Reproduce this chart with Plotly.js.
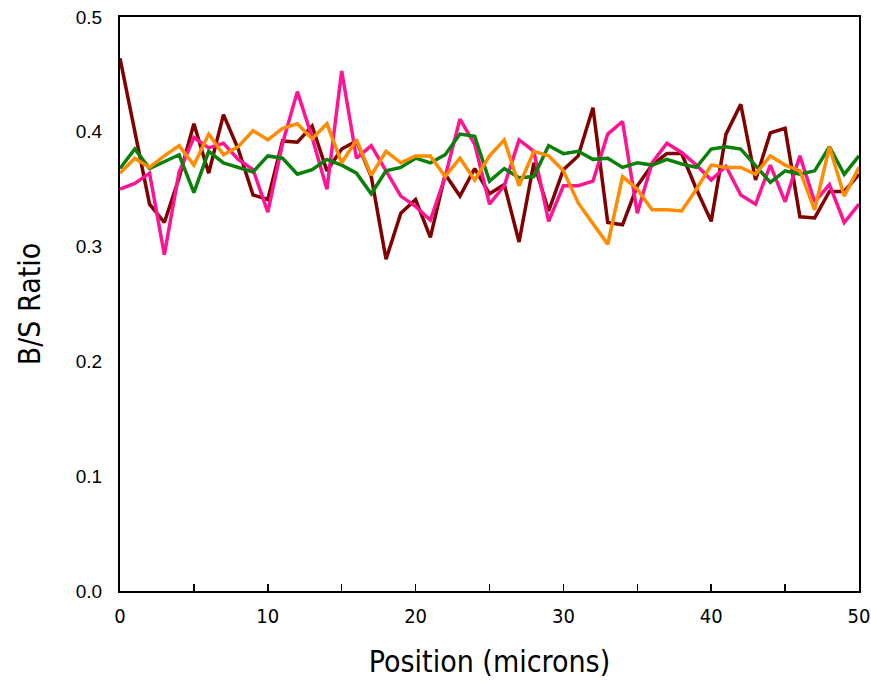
<!DOCTYPE html>
<html>
<head>
<meta charset="utf-8">
<script src="https://cdn.plot.ly/plotly-3.0.1.min.js"></script>
<style>html,body{margin:0;padding:0;background:#fff;}#chart{width:871px;height:684px;}</style>
</head>
<body>
<div id="chart"></div>
<script>
const position = [0,1,2,3,4,5,6,7,8,9,10,11,12,13,14,15,16,17,18,19,20,21,22,23,24,25,26,27,28,29,30,31,32,33,34,35,36,37,38,39,40,41,42,43,44,45,46,47,48,49,50];

const seriesDarkRed = [0.464,0.400,0.337,0.321,0.360,0.407,0.364,0.415,0.385,0.345,0.341,0.392,0.391,0.405,0.366,0.385,0.392,0.361,0.289,0.329,0.341,0.308,0.363,0.344,0.368,0.346,0.354,0.304,0.373,0.331,0.367,0.379,0.421,0.321,0.319,0.353,0.371,0.381,0.381,0.350,0.322,0.398,0.424,0.358,0.399,0.403,0.326,0.325,0.348,0.348,0.363];

const seriesPink = [0.350,0.355,0.364,0.293,0.365,0.395,0.386,0.390,0.376,0.367,0.330,0.390,0.435,0.395,0.350,0.453,0.377,0.388,0.366,0.344,0.335,0.323,0.361,0.411,0.389,0.337,0.353,0.393,0.383,0.322,0.353,0.353,0.357,0.398,0.409,0.329,0.373,0.390,0.382,0.371,0.358,0.370,0.345,0.337,0.371,0.339,0.379,0.339,0.354,0.321,0.337];

const seriesGreen = [0.368,0.385,0.368,0.374,0.380,0.347,0.383,0.373,0.369,0.365,0.379,0.377,0.363,0.367,0.376,0.371,0.364,0.346,0.366,0.369,0.377,0.373,0.380,0.398,0.396,0.357,0.368,0.360,0.361,0.388,0.381,0.383,0.376,0.377,0.369,0.373,0.371,0.376,0.372,0.369,0.385,0.387,0.385,0.371,0.356,0.366,0.363,0.366,0.387,0.363,0.379];

const seriesOrange = [0.364,0.377,0.369,0.379,0.388,0.371,0.398,0.380,0.387,0.401,0.393,0.403,0.407,0.394,0.407,0.373,0.393,0.362,0.383,0.373,0.379,0.379,0.361,0.377,0.358,0.379,0.393,0.353,0.383,0.379,0.366,0.338,0.320,0.302,0.361,0.350,0.332,0.332,0.331,0.350,0.371,0.369,0.369,0.363,0.379,0.371,0.366,0.332,0.387,0.344,0.369];

const xTickVals = [0,10,20,30,40,50];
const xTickText = ['0','10','20','30','40','50'];
const yTickVals = [0.0,0.1,0.2,0.3,0.4,0.5];
const yTickText = ['0.0','0.1','0.2','0.3','0.4','0.5'];

const colors = ['#800000','#ff1493','#0a800a','#ff8c00'];
const seriesList = [seriesDarkRed, seriesPink, seriesGreen, seriesOrange];

const traces = seriesList.map((ys, k) => ({
  x: position,
  y: ys,
  type: 'scatter',
  mode: 'lines',
  line: {color: colors[k], width: 3.5},
  showlegend: false,
  hoverinfo: 'skip'
}));

const layout = {
  width: 871,
  height: 684,
  margin: {l: 120, r: 12, t: 17, b: 93},
  paper_bgcolor: '#ffffff',
  plot_bgcolor: '#ffffff',
  showlegend: false,
  xaxis: {
    range: [0, 50],
    tickmode: 'array',
    tickvals: xTickVals,
    ticktext: xTickText,
    ticks: 'inside',
    ticklen: 7,
    tickwidth: 1.5,
    tickcolor: '#000',
    ticklabelstandoff: 6,
    minor: {tickmode: 'linear', tick0: 0, dtick: 5, ticks: 'inside', ticklen: 7, tickwidth: 1.5, tickcolor: '#000', showgrid: false},
    showline: true,
    linecolor: '#000',
    linewidth: 2,
    mirror: true,
    showgrid: false,
    zeroline: false,
    tickfont: {family: 'DejaVu Sans Condensed, DejaVu Sans', size: 20, color: '#000'},
    title: {text: 'Position (microns)', font: {family: 'DejaVu Sans Condensed, DejaVu Sans', size: 30, color: '#000'}, standoff: 24}
  },
  yaxis: {
    range: [0, 0.5],
    tickmode: 'array',
    tickvals: yTickVals,
    ticktext: yTickText,
    ticks: '',
    ticklabelstandoff: 12,
    showline: true,
    linecolor: '#000',
    linewidth: 2,
    mirror: true,
    showgrid: false,
    zeroline: false,
    tickfont: {family: 'Liberation Sans, Arial', size: 19, color: '#000'},
    title: {text: 'B/S Ratio', font: {family: 'DejaVu Sans Condensed, DejaVu Sans', size: 30, color: '#000'}, standoff: 26}
  }
};

Plotly.newPlot('chart', traces, layout, {displayModeBar: false, staticPlot: true});
</script>
</body>
</html>
